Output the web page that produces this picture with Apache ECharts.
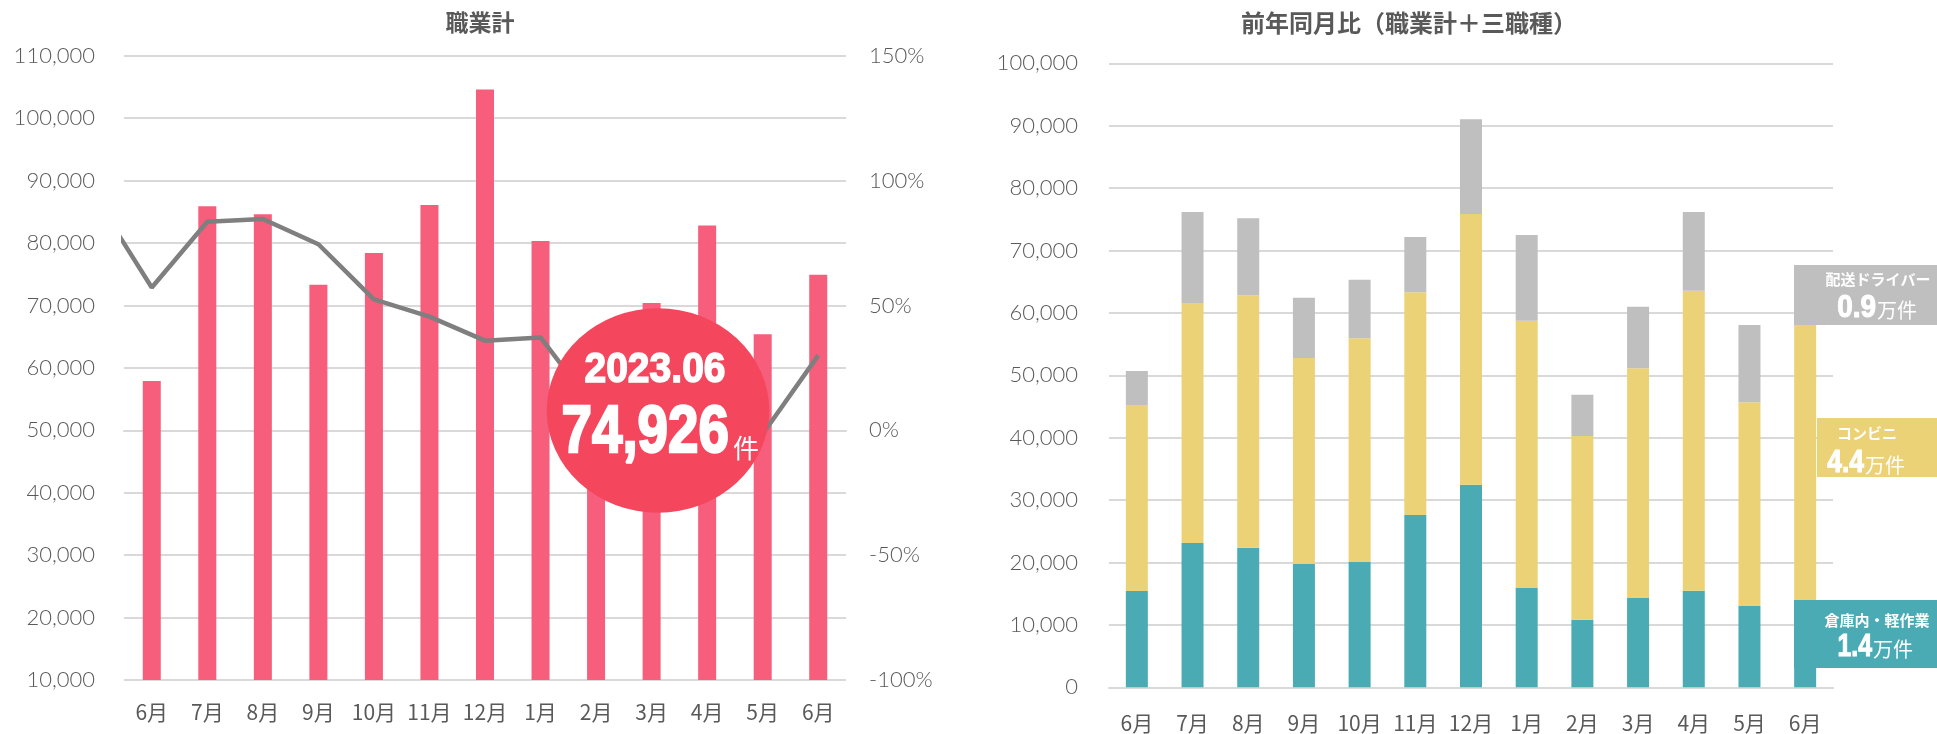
<!DOCTYPE html>
<html>
<head>
<meta charset="utf-8">
<script src="https://cdn.jsdelivr.net/npm/echarts@6/dist/echarts.min.js"></script>
<style>
	html, body { margin: 0; padding: 0; background: #FFFFFF; }
	#main { width: 1937px; height: 734px; }
</style>
</head>
<body>
<div id="main"></div>
<script>
	// 月（2022.06 〜 2023.06）
	var months = ['6月', '7月', '8月', '9月', '10月', '11月', '12月', '1月', '2月', '3月', '4月', '5月', '6月'];
	// 職業計（件）
	var totalJobs = [57900, 85900, 84600, 73300, 78400, 86100, 104600, 80300, 53500, 70400, 82800, 65400, 74926];
	// 前年同月比（%）、先頭は2022.05
	var yoyPrev = 92.5;
	var yoy = [57.2, 83.5, 84.6, 74.5, 52.4, 45.5, 35.9, 37.2, 8, 3, 6, -1.5, 30];
	// 三職種
	var warehouse = [15430, 23130, 22370, 19810, 20080, 27610, 32470, 15910, 10830, 14310, 15480, 13030, 13990];
	var conveni = [29810, 38460, 40450, 32960, 35850, 35690, 43380, 42840, 29440, 36810, 48080, 32640, 44070];
	var driver = [5450, 14580, 12340, 9670, 9390, 8860, 15180, 13730, 6620, 9880, 12610, 12390, 9620];

	var gray = '#595959';
	var gridColor = '#D9D9D9';
	var numFont = 'Lato, "Noto Sans CJK JP", sans-serif';
	var jpFont = '"Noto Sans CJK JP", sans-serif';
	var bigFont = '"Liberation Sans", Arial, sans-serif';

	// 折れ線は前月の点から描く（グリッド外はクリップ）
	var yoyPoints = [[-0.5, yoyPrev]];
	for (var i = 0; i < yoy.length; i++) {
		yoyPoints.push([i + 0.5, yoy[i]]);
	}

	function comma(v) {
		return v.toLocaleString('en-US');
	}

	// 白抜きの数字（横につぶした太字）
	function bigText(text, x, y, size, sx, align) {
		return {
			type: 'text', z: 101, x: x, y: y, scaleX: sx,
			style: {
				text: text, fill: '#FFFFFF', fontSize: size, fontWeight: 'bold', fontFamily: bigFont,
				stroke: '#FFFFFF', lineWidth: size / 28, align: align, verticalAlign: 'middle'
			}
		};
	}
	function smallText(text, x, y, size, align, weight) {
		return {
			type: 'text', z: 101, x: x, y: y,
			style: { text: text, fill: '#FFFFFF', fontSize: size, fontWeight: weight || 'normal', fontFamily: jpFont, align: align, verticalAlign: 'middle' }
		};
	}

	var axisLabel = { color: gray, fontSize: 22, fontFamily: numFont, fontWeight: 300 };
	var monthLabel = { color: gray, fontSize: 21, fontFamily: jpFont, interval: 0 };

	var chart = echarts.init(document.getElementById('main'));
	var option = {
		animation: false,
		title: [
			{
				text: '職業計', left: 480, top: 11, textAlign: 'center', padding: 0,
				textStyle: { color: gray, fontSize: 23, fontWeight: 'bold', fontFamily: jpFont }
			},
			{
				text: '前年同月比（職業計＋三職種）', left: 1409, top: 11, textAlign: 'center', padding: 0,
				textStyle: { color: gray, fontSize: 24, fontWeight: 'bold', fontFamily: jpFont }
			}
		],
		grid: [
			{ left: 124, right: 1091, top: 55.7, bottom: 54 },
			{ left: 1109, right: 104, top: 63.3, bottom: 46.7 }
		],
		xAxis: [
			{
				type: 'category', gridIndex: 0, data: months,
				axisLine: { lineStyle: { color: gridColor, width: 2 } },
				axisTick: { length: 7, lineStyle: { color: gridColor, width: 2 } },
				axisLabel: Object.assign({}, monthLabel, { margin: 22 })
			},
			{ type: 'value', gridIndex: 0, min: 0, max: months.length, show: false },
			{
				type: 'category', gridIndex: 1, data: months,
				axisLine: { lineStyle: { color: gridColor, width: 2 } },
				axisTick: { length: 7, lineStyle: { color: gridColor, width: 2 } },
				axisLabel: Object.assign({}, monthLabel, { margin: 25 })
			}
		],
		yAxis: [
			{
				type: 'value', gridIndex: 0, min: 10000, max: 110000, interval: 10000,
				axisLine: { show: false }, axisTick: { show: false },
				splitLine: { lineStyle: { color: gridColor, width: 2 } },
				axisLabel: Object.assign({}, axisLabel, { margin: 29, formatter: comma })
			},
			{
				type: 'value', gridIndex: 0, min: -100, max: 150, interval: 50,
				axisLine: { show: false }, axisTick: { show: false }, splitLine: { show: false },
				axisLabel: Object.assign({}, axisLabel, { margin: 23, formatter: '{value}%' })
			},
			{
				type: 'value', gridIndex: 1, min: 0, max: 100000, interval: 10000,
				axisLine: { show: false }, axisTick: { show: false },
				splitLine: { lineStyle: { color: gridColor, width: 2 } },
				axisLabel: Object.assign({}, axisLabel, { margin: 31, formatter: comma })
			}
		],
		series: [
			{
				name: '職業計', type: 'bar', xAxisIndex: 0, yAxisIndex: 0,
				barWidth: 18, itemStyle: { color: '#F65E7B' }, data: totalJobs
			},
			{
				name: '前年同月比', type: 'line', xAxisIndex: 1, yAxisIndex: 1,
				symbol: 'none', clip: true, z: 5,
				lineStyle: { color: '#7F7F7F', width: 4.5 }, data: yoyPoints
			},
			{
				name: '倉庫内・軽作業', type: 'bar', stack: 'three', xAxisIndex: 2, yAxisIndex: 2,
				barWidth: 22, itemStyle: { color: '#4AABB4' }, data: warehouse
			},
			{
				name: 'コンビニ', type: 'bar', stack: 'three', xAxisIndex: 2, yAxisIndex: 2,
				barWidth: 22, itemStyle: { color: '#ECD277' }, data: conveni
			},
			{
				name: '配送ドライバー', type: 'bar', stack: 'three', xAxisIndex: 2, yAxisIndex: 2,
				barWidth: 22, itemStyle: { color: '#BFBFBF' }, data: driver
			}
		],
		graphic: [
			// 最新月の吹き出し
			{
				type: 'circle', z: 100, x: 658, y: 410.5, scaleX: 1.089,
				shape: { cx: 0, cy: 0, r: 102.2 },
				style: { fill: '#F4475E' }
			},
			bigText('2023.06', 655, 370, 42, 0.93, 'center'),
			bigText(comma(totalJobs[totalJobs.length - 1]), 729, 434, 66, 0.83, 'right'),
			smallText('件', 733, 448, 26, 'left'),
			// 右側のラベル
			{ type: 'rect', z: 100, shape: { x: 1794, y: 265, width: 143, height: 60 }, style: { fill: '#BFBFBF' } },
			{ type: 'rect', z: 100, shape: { x: 1817, y: 418, width: 120, height: 59 }, style: { fill: '#ECD277' } },
			{ type: 'rect', z: 100, shape: { x: 1794, y: 600, width: 143, height: 68 }, style: { fill: '#4AABB4' } },
			smallText('配送ドライバー', 1878, 279, 15, 'center', 'bold'),
			bigText('0.9', 1876, 308, 31, 0.9, 'right'),
			smallText('万件', 1877, 310, 20, 'left'),
			smallText('コンビニ', 1867, 433, 15, 'center', 'bold'),
			bigText('4.4', 1864, 463, 31, 0.85, 'right'),
			smallText('万件', 1865, 465, 20, 'left'),
			smallText('倉庫内・軽作業', 1877, 620, 15, 'center', 'bold'),
			bigText('1.4', 1872, 647, 31, 0.8, 'right'),
			smallText('万件', 1873, 649, 20, 'left')
		]
	};
	chart.setOption(option);
</script>
</body>
</html>
